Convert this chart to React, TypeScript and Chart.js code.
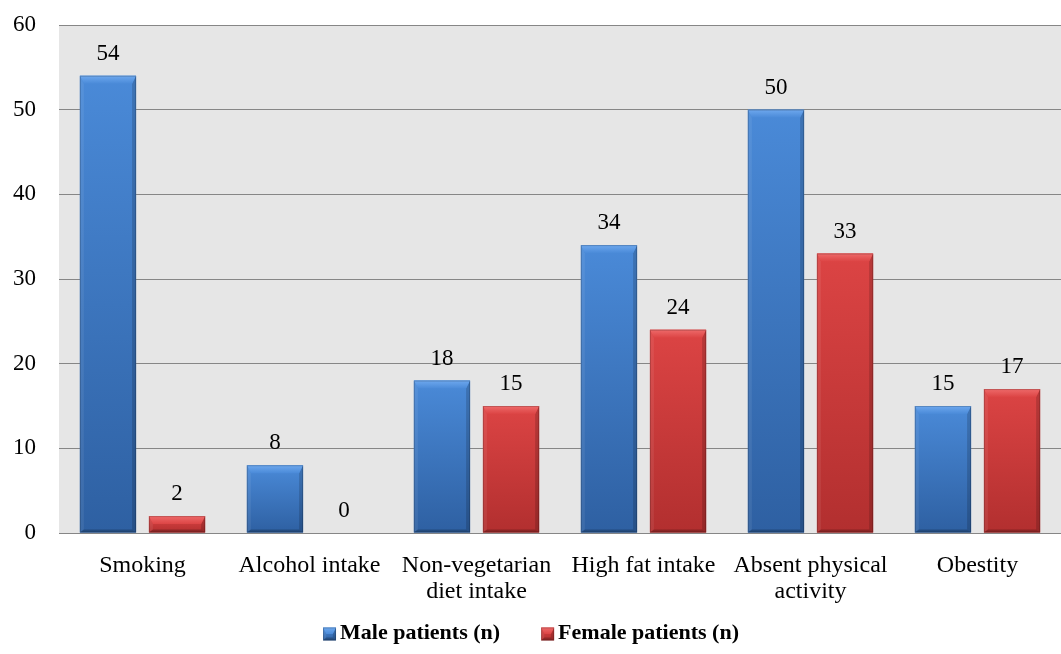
import React, { useEffect, useRef } from "react";
import { Chart, registerables } from "chart.js";

Chart.register(...registerables);

const categories: (string | string[])[] = [
  "Smoking",
  "Alcohol intake",
  ["Non-vegetarian", "diet intake"],
  "High fat intake",
  ["Absent physical", "activity"],
  "Obestity",
];
const maleValues = [54, 8, 18, 34, 50, 15];
const femaleValues = [2, 0, 15, 24, 33, 17];
const seriesNames = ["Male patients (n)", "Female patients (n)"];
const yTicks = { min: 0, max: 60, step: 10 };

const FONT = "'Liberation Serif', 'Times New Roman', serif";

type Palette = { top: string; bottom: string; bevel: string; edge: string };
const palettes: Palette[] = [
  { top: "#4a8ad8", bottom: "#2e60a2", bevel: "#6ea8ee", edge: "#23487a" },
  { top: "#dc4444", bottom: "#b22f2f", bevel: "#ee6a6a", edge: "#7e1f1f" },
];

function drawBevelBar(ctx: CanvasRenderingContext2D, L: number, R: number, T: number, B: number, p: Palette) {
  const h = B - T;
  const w = R - L;
  if (h < 0.5 || w < 1) return;
  const bt = Math.min(8, h / 2);
  const bs = Math.min(4, w / 4, h / 2);
  const bb = Math.min(3, h / 3);
  ctx.save();
  const g = ctx.createLinearGradient(0, T, 0, B);
  g.addColorStop(0, p.top);
  g.addColorStop(1, p.bottom);
  ctx.fillStyle = g;
  ctx.fillRect(L, T, w, h);
  ctx.beginPath();
  ctx.moveTo(L, T);
  ctx.lineTo(L + bs, T + bt);
  ctx.lineTo(L + bs, B - bb);
  ctx.lineTo(L, B);
  ctx.closePath();
  ctx.fillStyle = "rgba(255,255,255,0.07)";
  ctx.fill();
  ctx.beginPath();
  ctx.moveTo(R, T);
  ctx.lineTo(R - bs, T + bt);
  ctx.lineTo(R - bs, B - bb);
  ctx.lineTo(R, B);
  ctx.closePath();
  ctx.fillStyle = "rgba(0,0,0,0.16)";
  ctx.fill();
  ctx.beginPath();
  ctx.moveTo(L, B);
  ctx.lineTo(L + bs, B - bb);
  ctx.lineTo(R - bs, B - bb);
  ctx.lineTo(R, B);
  ctx.closePath();
  ctx.fillStyle = "rgba(0,0,0,0.22)";
  ctx.fill();
  ctx.beginPath();
  ctx.moveTo(L, T);
  ctx.lineTo(R, T);
  ctx.lineTo(R - bs, T + bt);
  ctx.lineTo(L + bs, T + bt);
  ctx.closePath();
  const tg = ctx.createLinearGradient(0, T, 0, T + bt);
  tg.addColorStop(0, p.bevel);
  tg.addColorStop(1, p.top);
  ctx.fillStyle = tg;
  ctx.fill();
  ctx.strokeStyle = "rgba(0,0,0,0.18)";
  ctx.lineWidth = 1;
  ctx.strokeRect(L + 0.5, T + 0.5, w - 1, h - 1);
  ctx.restore();
}

const plotBackground = {
  id: "plotBackground",
  beforeDraw(chart: any) {
    const { ctx, chartArea } = chart;
    ctx.save();
    ctx.fillStyle = "#e6e6e6";
    ctx.fillRect(chartArea.left, chartArea.top, chartArea.right - chartArea.left, chartArea.bottom - chartArea.top);
    ctx.restore();
  },
};

const bevelBars = {
  id: "bevelBars",
  afterDatasetDraw(chart: any, args: any) {
    const meta = args.meta;
    const p = palettes[args.index % palettes.length];
    const ctx = chart.ctx;
    meta.data.forEach((el: any) => {
      const { x, y, base, width } = el.getProps(["x", "y", "base", "width"], true);
      drawBevelBar(ctx, x - width / 2, x + width / 2, Math.min(y, base), Math.max(y, base), p);
    });
  },
};

const valueLabels = {
  id: "valueLabels",
  afterDatasetsDraw(chart: any) {
    const ctx = chart.ctx;
    ctx.save();
    ctx.font = `23px ${FONT}`;
    ctx.fillStyle = "#000";
    ctx.textAlign = "center";
    ctx.textBaseline = "alphabetic";
    chart.data.datasets.forEach((ds: any, i: number) => {
      const meta = chart.getDatasetMeta(i);
      meta.data.forEach((el: any, j: number) => {
        const { x, y, base } = el.getProps(["x", "y", "base"], true);
        ctx.fillText(String(ds.data[j]), x, Math.min(y, base) - 16);
      });
    });
    ctx.restore();
  },
};

// Legend drawn from the dataset labels (bottom, centred)
const bottomLegend = {
  id: "bottomLegend",
  afterDraw(chart: any) {
    const ctx = chart.ctx;
    const icon = 13;
    const iconGap = 4;
    const itemGap = 41;
    const cy = 633;
    ctx.save();
    ctx.font = `bold 22px ${FONT}`;
    ctx.textBaseline = "middle";
    ctx.textAlign = "left";
    const names = chart.data.datasets.map((d: any) => d.label as string);
    const widths = names.map((n: string) => ctx.measureText(n).width);
    const total = widths.reduce((a: number, w: number) => a + icon + iconGap + w, 0) + itemGap * (names.length - 1);
    let x = 531 - total / 2;
    names.forEach((n: string, i: number) => {
      drawBevelBar(ctx, x, x + icon, cy - icon / 2 + 1, cy + icon / 2 + 1, palettes[i]);
      x += icon + iconGap;
      ctx.fillStyle = "#000";
      ctx.fillText(n, x, cy);
      x += widths[i] + itemGap;
    });
    ctx.restore();
  },
};

export default function App() {
  const ref = useRef<HTMLCanvasElement | null>(null);
  useEffect(() => {
    if (!ref.current) return;
    const chart = new Chart(ref.current, {
      type: "bar",
      data: {
        labels: categories,
        datasets: [
          { label: seriesNames[0], data: maleValues, backgroundColor: palettes[0].top, borderWidth: 0 },
          { label: seriesNames[1], data: femaleValues, backgroundColor: palettes[1].top, borderWidth: 0 },
        ],
      },
      options: {
        animation: false,
        responsive: false,
        maintainAspectRatio: false,
        layout: { padding: { top: 25, right: -14, left: 0, bottom: 0 } },
        datasets: { bar: { categoryPercentage: 0.827, barPercentage: 0.814 } },
        plugins: {
          tooltip: { enabled: false },
          legend: { display: false },
        },
        scales: {
          x: {
            grid: { display: false, drawTicks: false },
            border: { display: true, color: "#868686", width: 1 },
            ticks: {
              color: "#000",
              padding: 20,
              maxRotation: 0,
              autoSkip: false,
              font: { family: FONT, size: 24, lineHeight: 1.07 },
            },
            afterFit: (s: any) => {
              s.height = 121;
            },
          },
          y: {
            min: yTicks.min,
            max: yTicks.max,
            grid: { color: "#868686", lineWidth: 1, drawTicks: true, tickLength: 23, tickColor: "rgba(0,0,0,0)" },
            border: { display: false },
            ticks: {
              stepSize: yTicks.step,
              color: "#000",
              padding: 0,
              font: { family: FONT, size: 23 },
            },
            afterFit: (s: any) => {
              s.width = 59;
              s.paddingTop = 0;
              s.paddingBottom = 0;
            },
          },
        },
      },
      plugins: [plotBackground, bevelBars, valueLabels, bottomLegend],
    });
    return () => chart.destroy();
  }, []);
  return (
    <div style={{ position: "fixed", left: 0, top: 0, width: 1061, height: 654, overflow: "hidden", background: "#fff" }}>
      <canvas ref={ref} width={1061} height={654} style={{ display: "block" }} />
    </div>
  );
}
